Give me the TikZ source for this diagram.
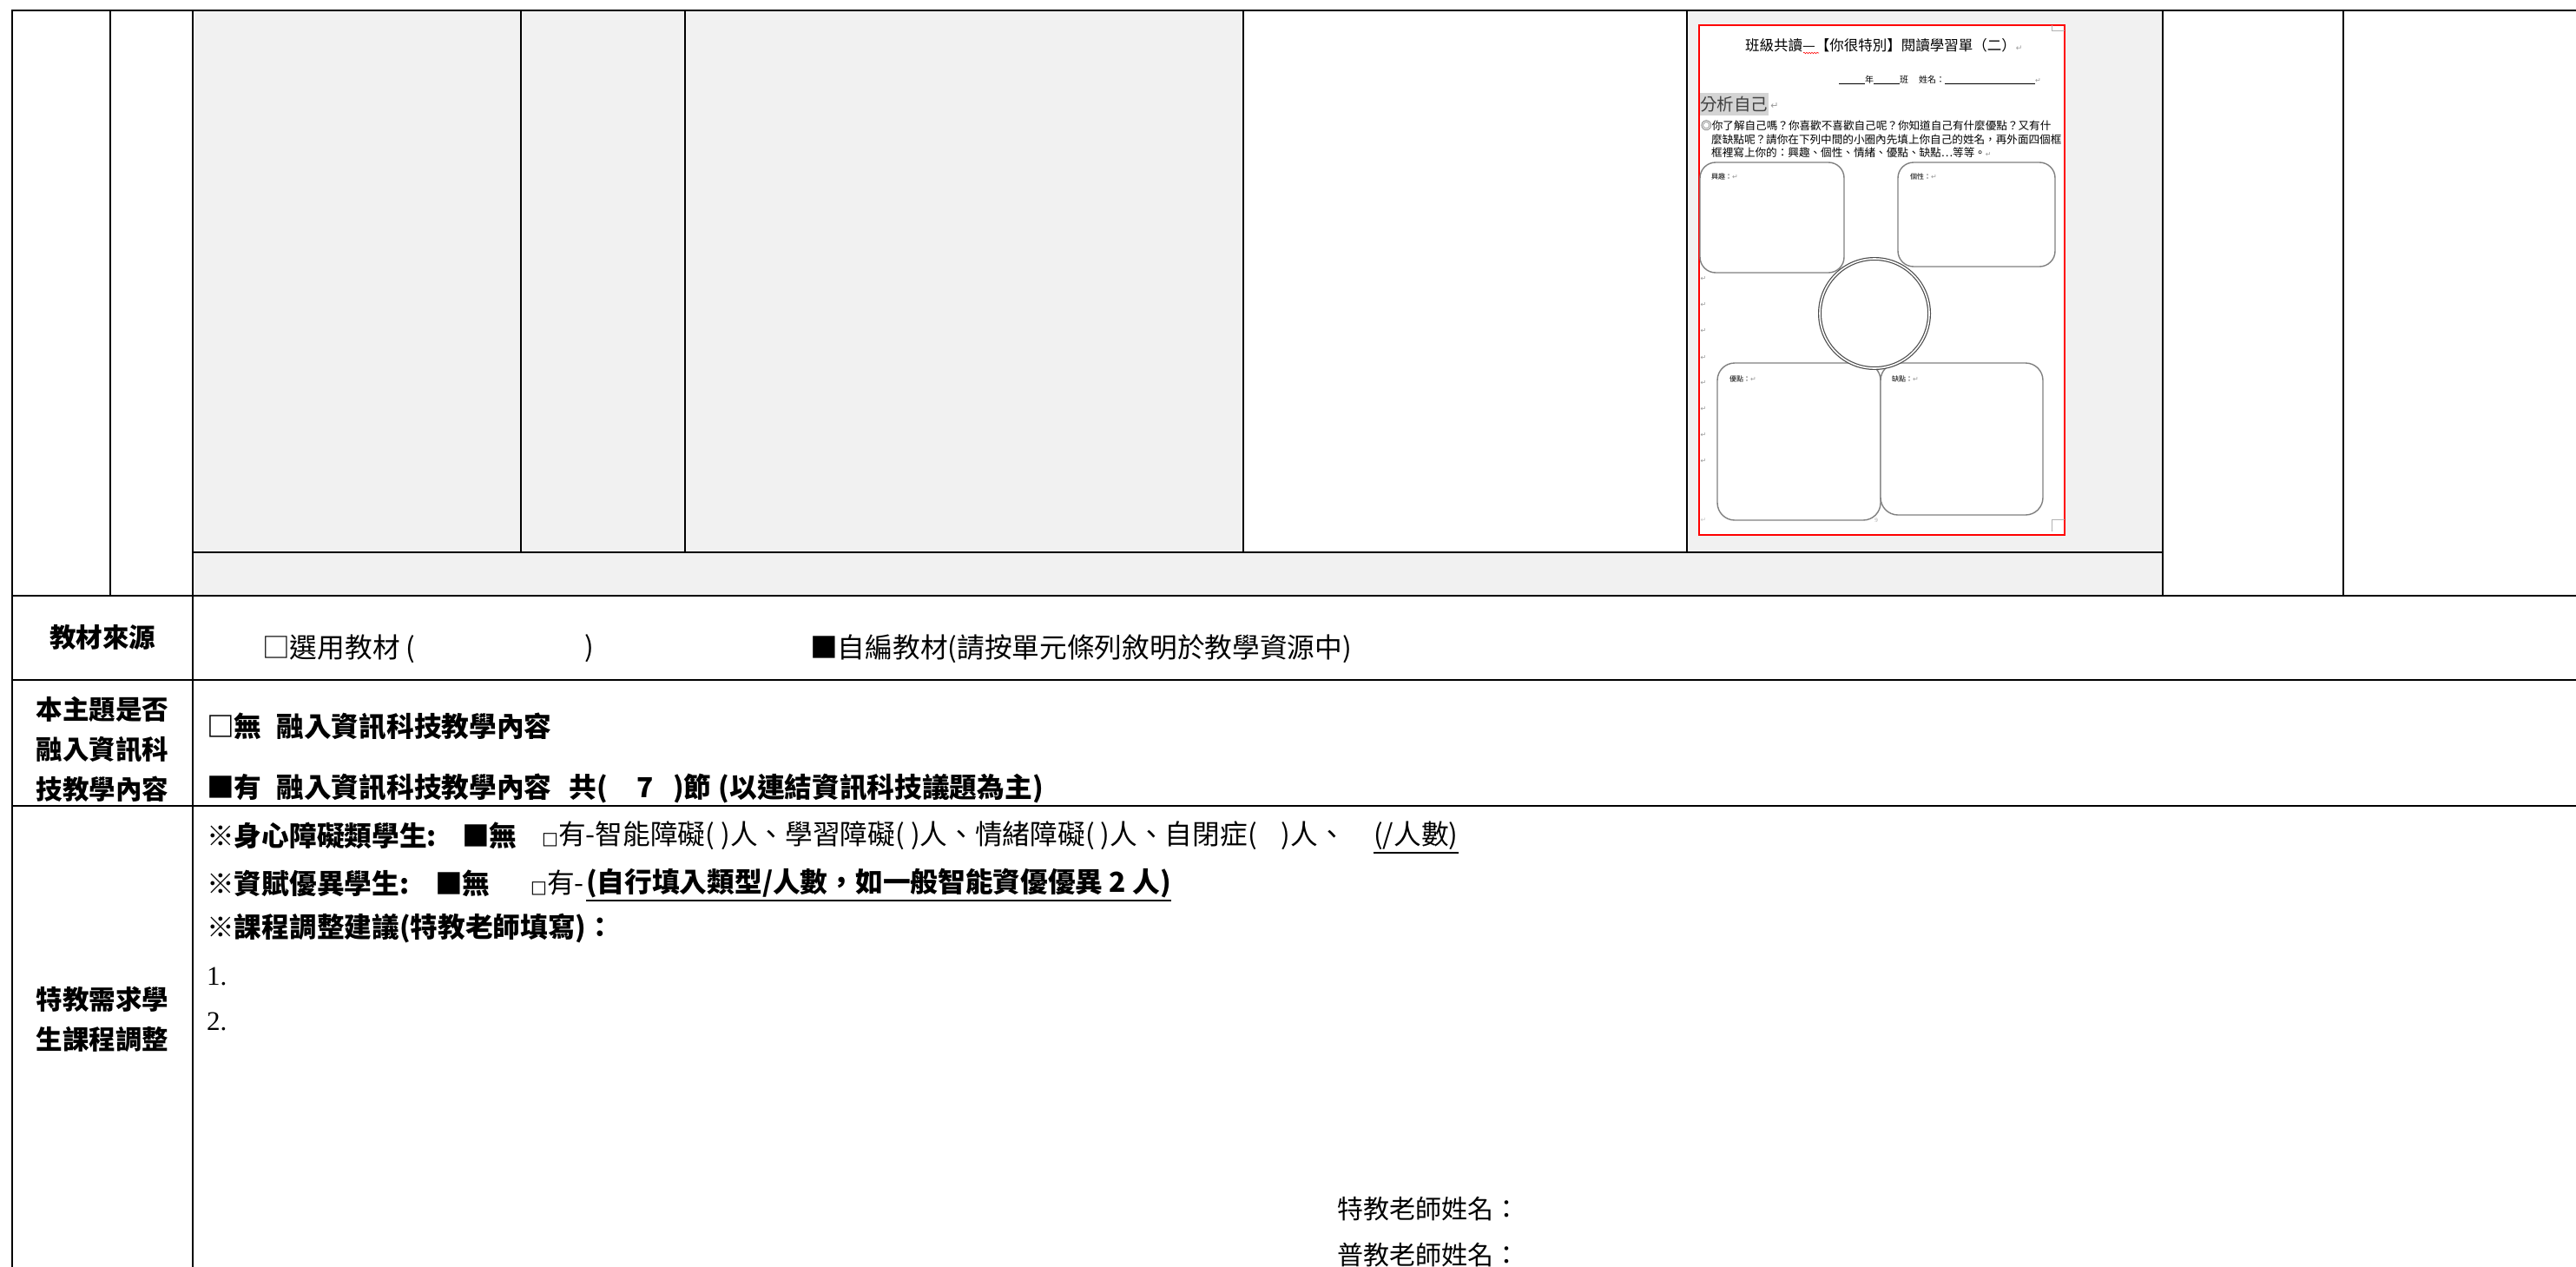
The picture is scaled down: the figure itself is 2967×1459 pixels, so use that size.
\documentclass[tikz,border=0pt]{standalone}
\usepackage{fontspec}
\setmainfont{Liberation Serif}
\newfontfamily\cjk{Noto Sans CJK TC}
\newfontfamily\djv{DejaVu Sans}
\usetikzlibrary{decorations.pathmorphing}
\definecolor{cellgray}{HTML}{F1F1F1}
\definecolor{wsgray}{HTML}{808080}
\newcommand\smallbox{{\djv\fontsize{20}{24}\selectfont □}}
\begin{document}
\begin{tikzpicture}[x=1pt,y=-1pt,
  gridline/.style={line width=2.4pt, line cap=rect},
  thinline/.style={line width=2pt, line cap=rect},
  lbl/.style={inner sep=0, align=center, font=\cjk\bfseries\fontsize{30.5}{46}\selectfont},
  tx/.style={anchor=west, inner sep=0, font=\cjk\fontsize{31.7}{36}\selectfont},
  btx/.style={anchor=west, inner sep=0, font=\cjk\bfseries\fontsize{31.7}{36}\selectfont},
  sertx/.style={anchor=west, inner sep=0, font=\fontsize{31}{36}\selectfont},
  wstx/.style={anchor=west, inner sep=0, font=\cjk\fontsize{12.6}{15}\selectfont},
  wslbl/.style={anchor=west, inner sep=0, font=\cjk\fontsize{8}{10}\selectfont},
  retmark/.style={inner sep=0, font=\djv\fontsize{8}{10}\selectfont, text=black!40},
  wsbox/.style={draw=wsgray, line width=1.4pt, fill=white},
  ulline/.style={line width=1.8pt}
]
\useasboundingbox (0,0) rectangle (2967,1459);
\fill[white] (0,0) rectangle (2967,1459);

% cell fills
\fill[cellgray] (222,12) rectangle (2491,686);
\fill[white] (1432,12) rectangle (1943,636);

% ---------- embedded worksheet ----------
\fill[white] (1957,29) rectangle (2378,616);
\draw[red, line width=1.3pt] (1957,29) rectangle (2378,616);
\draw[black!30, line width=0.8pt] (2363,29) -- (2363,35) -- (2378,35);
\draw[black!30, line width=0.8pt] (2363,612) -- (2363,598) -- (2378,598);

\node[anchor=west, inner sep=0, font=\cjk\fontsize{16.5}{19}\selectfont] (wtitle) at (2010,52)
  {班級共讀—【你很特別】閱讀學習單（二）{\djv\fontsize{9}{10}\selectfont\color{black!40}↵}};
\draw[red, line width=0.6pt, decorate, decoration={snake, amplitude=0.8pt, segment length=3pt}] (2077,61) -- (2095,61);

\node[anchor=west, inner sep=0, font=\cjk\fontsize{10}{12}\selectfont] (wname) at (2118,92)
  {\underline{\hspace{30pt}}年\underline{\hspace{30pt}}班\hspace{12pt}姓名：\underline{\hspace{104pt}}{\djv\fontsize{8}{10}\selectfont\color{black!40}↵}};

\fill[black!17] (1958,107) rectangle (2037,133);
\node[anchor=west, inner sep=0, font=\cjk\fontsize{19.5}{22}\selectfont, text=black!75] (wsec) at (1958,120) {分析自己};
\node[retmark, font=\djv\fontsize{11}{12}\selectfont] (wsecret) at (2044,122) {↵};

\node[wstx] (wp1) at (1959,145) {◎你了解自己嗎？你喜歡不喜歡自己呢？你知道自己有什麼優點？又有什};
\node[wstx] (wp2) at (1971,161) {麼缺點呢？請你在下列中間的小圈內先填上你自己的姓名，再外面四個框};
\node[wstx] (wp3) at (1971,176) {框裡寫上你的：興趣、個性、情緒、優點、缺點…等等。{\djv\fontsize{8}{10}\selectfont\color{black!40}↵}};

\draw[wsbox, rounded corners=18pt] (1958,187) rectangle (2124,314);
\draw[wsbox, rounded corners=18pt] (2186,187) rectangle (2367,307);
\draw[wsbox, rounded corners=20pt] (1978,418) rectangle (2166,599);
\draw[wsbox, rounded corners=20pt] (2166,418) rectangle (2353,593);
\draw[draw=black!70, line width=1.2pt, double=white, double distance=1.6pt, fill=white] (2159,361) circle[radius=63];

\node[wslbl] (wl1) at (1971,203) {興趣：{\djv\color{black!40}↵}};
\node[wslbl] (wl2) at (2200,203) {個性：{\djv\color{black!40}↵}};
\node[wslbl] (wl3) at (1992,436) {優點：{\djv\color{black!40}↵}};
\node[wslbl] (wl4) at (2179,436) {缺點：{\djv\color{black!40}↵}};

\foreach \yy [count=\i] in {321,351,381,412,441,471,501,531} {
  \node[retmark] (ret\i) at (1962,\yy) {↵};
}
\node[retmark, text=black!20] (retlast) at (1962,599) {↵};
\node[inner sep=0, font=\fontsize{7}{8}\selectfont, text=black!35] (pgno) at (2161,599) {9};

% ---------- grid ----------
\draw[gridline] (14,12) -- (2967,12);
\draw[thinline] (222,636) -- (2491,636);
\draw[gridline] (14,686) -- (2967,686);
\draw[gridline] (14,783) -- (2967,783);
\draw[gridline] (14,928) -- (2967,928);
\draw[line width=2.8pt] (14,12) -- (14,1459);
\draw[line width=2.6pt] (222,12) -- (222,1459);
\draw[thinline] (127,12) -- (127,686);
\foreach \xx in {600,789,1432,1943} { \draw[thinline] (\xx,12) -- (\xx,636); }
\foreach \xx in {2491,2699} { \draw[thinline] (\xx,12) -- (\xx,686); }

% ---------- row: 教材來源 ----------
\node[lbl] (lsrc) at (118,734) {教材來源};
\node[tx] (src1) at (302,747) {□選用教材 (};
\node[tx] (src1b) at (673,747) {)};
\node[tx] (src2) at (933,747) {■自編教材(請按單元條列敘明於教學資源中)};

% ---------- row: 資訊科技 ----------
\node[lbl] (lit) at (118,863) {本主題是否\\融入資訊科\\技教學內容};
\node[btx] (it1) at (238,837) {□無\hspace{17pt}融入資訊科技教學內容};
\node[btx] (it2) at (238,908) {■有\hspace{17pt}融入資訊科技教學內容\hspace{20pt}共(\hspace{34pt}7\hspace{22pt})節\hspace{8pt}(以連結資訊科技議題為主)};

% ---------- row: 特教 ----------
\node[lbl] (lsp) at (118,1174) {特教需求學\\生課程調整};
\node[btx] (sa1) at (238,962) {※身心障礙類學生:};
\node[btx] (sa2) at (532,962) {■無};
\node[tx] (sa3) at (624,962) {\smallbox 有-智能障礙( )人、學習障礙( )人、情緒障礙( )人、自閉症(\hspace{28pt})人、};
\node[tx] (sa4) at (1582,962) {(/人數)};
\draw[ulline] ([yshift=-3pt]sa4.south west) -- ([yshift=-3pt]sa4.south east);

\node[btx] (sb1) at (238,1017) {※資賦優異學生:};
\node[btx] (sb2) at (501,1017) {■無};
\node[tx] (sb3) at (611,1017) {\smallbox 有-};
\node[btx] (sb4) at (675,1017) {(自行填入類型/人數，如一般智能資優優異 2 人)};
\draw[ulline] ([yshift=-3pt]sb4.south west) -- ([yshift=-3pt]sb4.south east);

\node[btx] (sc1) at (238,1069) {※課程調整建議(特教老師填寫)：};
\node[sertx] (sn1) at (238,1124) {1.};
\node[sertx] (sn2) at (238,1176) {2.};

\node[tx, font=\cjk\fontsize{30}{36}\selectfont] (tname1) at (1540,1392) {特教老師姓名：};
\node[tx, font=\cjk\fontsize{30}{36}\selectfont] (tname2) at (1540,1445) {普教老師姓名：};
\end{tikzpicture}
\end{document}
